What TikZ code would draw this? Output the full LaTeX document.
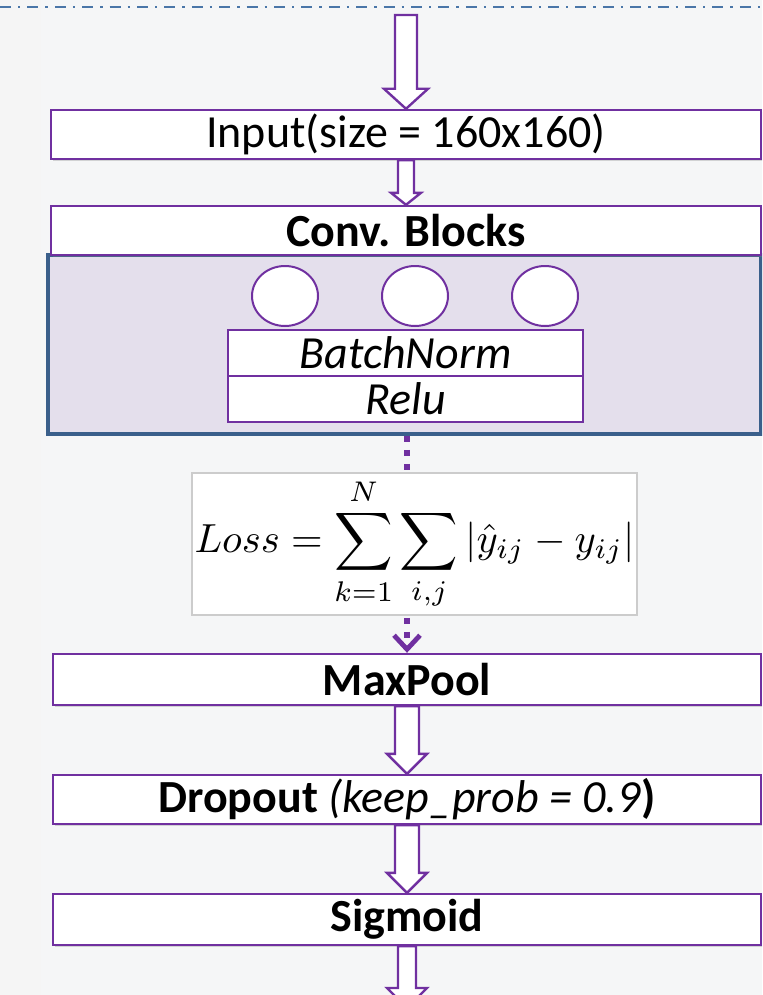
\documentclass[tikz,border=0pt]{standalone}
\usepackage{fontspec}
\setmainfont{Carlito}
\usetikzlibrary{arrows.meta,positioning,calc,shapes.geometric,shadows}
\definecolor{boxpurple}{HTML}{7030A0}
\definecolor{lavender}{HTML}{E4DFEC}
\definecolor{bodyblue}{HTML}{3A5F8B}
\definecolor{sepblue}{HTML}{4A76A8}
\definecolor{paper}{HTML}{F5F6F7}
\tikzset{
	box/.style={draw=boxpurple,line width=1.2pt,fill=white,rectangle,minimum width=355pt,minimum height=24.5pt,inner sep=0pt,font=\fontsize{23}{27}\selectfont,drop shadow={shadow xshift=0.8pt,shadow yshift=-1.2pt,opacity=0.3}},
	boldbox/.style={box,font=\fontsize{23}{27}\selectfont\bfseries},
	subbox/.style={draw=boxpurple,line width=1pt,fill=white,rectangle,minimum width=177.5pt,minimum height=23pt,inner sep=0pt,font=\fontsize{23}{27}\selectfont\itshape},
	unit/.style={ellipse,draw=boxpurple,line width=1pt,fill=white,minimum width=33pt,minimum height=30pt,inner sep=0pt},
	body/.style={draw=bodyblue,line width=1.8pt,fill=lavender,rectangle,minimum width=356.5pt,minimum height=89.5pt,inner sep=0pt,drop shadow={shadow xshift=0.8pt,shadow yshift=-1.2pt,opacity=0.3}},
	formula/.style={draw=black!20,line width=0.6pt,fill=white,rectangle,minimum width=222.5pt,minimum height=71pt,inner sep=0pt},
	hollow/.style={draw=boxpurple,line width=1.2pt,fill=white,line join=miter},
	lossflow/.style={draw=boxpurple,line width=2.6pt,dash pattern=on 3pt off 4pt,-{Straight Barb[length=7pt,width=13pt,line width=2.4pt]}},
	divider/.style={draw=sepblue,line width=1.3pt,dash pattern=on 5.5pt off 3.5pt on 1.2pt off 3.5pt}
}
% hollow block arrow: from, to, half shaft, half head, head length
\newcommand{\hollowarrow}[5]{%
	\draw[hollow] ($(#1 -| #2)+(-#3,0)$) -- ($(#2)+(-#3,-#5)$) -- ($(#2)+(-#4,-#5)$) -- (#2)
		-- ($(#2)+(#4,-#5)$) -- ($(#2)+(#3,-#5)$) -- ($(#1 -| #2)+(#3,0)$) -- cycle;}

\begin{document}
\begin{tikzpicture}[x=0.5pt,y=-0.5pt]
	\fill[paper] (0,0) rectangle (762,995);
	\fill[black!4] (0,0) rectangle (41,995);
	\useasboundingbox (0,0) rectangle (762,995);
	\clip (0,0) rectangle (762,995);
	\draw[divider] (0,7) -- (762,7);
	\coordinate (top) at (409,15);
	\coordinate (bottom) at (407,1008);

	\node[box] (inp) at (406,134.5) {Input(size = 160x160)};
	\node[body] (body) at (404.5,344.5) {};
	\node[boldbox] (conv) at (406,230.5) {Conv. Blocks};
	\node[unit] (u1) at (285,296) {};
	\node[unit] (u2) at (415,296) {};
	\node[unit] (u3) at (545,296) {};
	\node[subbox] (bn) at (405.5,353) {BatchNorm};
	\node[subbox] (relu) at (405.5,399) {Relu};

	\node[boldbox,minimum width=354pt,minimum height=25.5pt] (maxpool) at (407,679.5) {MaxPool};
	\draw[lossflow] (body.south -| maxpool.north) -- (maxpool.north);
	\node[formula] (loss) at (414.5,544) {\scalebox{2.03}{$\displaystyle Loss=\sum_{k=1}^{N}\sum_{i,j}|\hat{y}_{ij}-y_{ij}|$}};
	\node[box,minimum width=354pt] (drop) at (407,799.5) {\textbf{Dropout} \textit{(keep\_prob = 0.9}\textbf{)}};
	\node[boldbox,minimum width=354pt,minimum height=25.5pt] (sig) at (407,919.5) {Sigmoid};

	\hollowarrow{top}{inp.north}{11}{22}{20}
	\hollowarrow{inp.south}{conv.north}{8}{15}{12}
	\hollowarrow{maxpool.south}{drop.north}{12}{20}{20}
	\hollowarrow{drop.south}{sig.north}{12}{20}{20}
	\hollowarrow{sig.south}{bottom}{9}{20}{20}
\end{tikzpicture}
\end{document}
